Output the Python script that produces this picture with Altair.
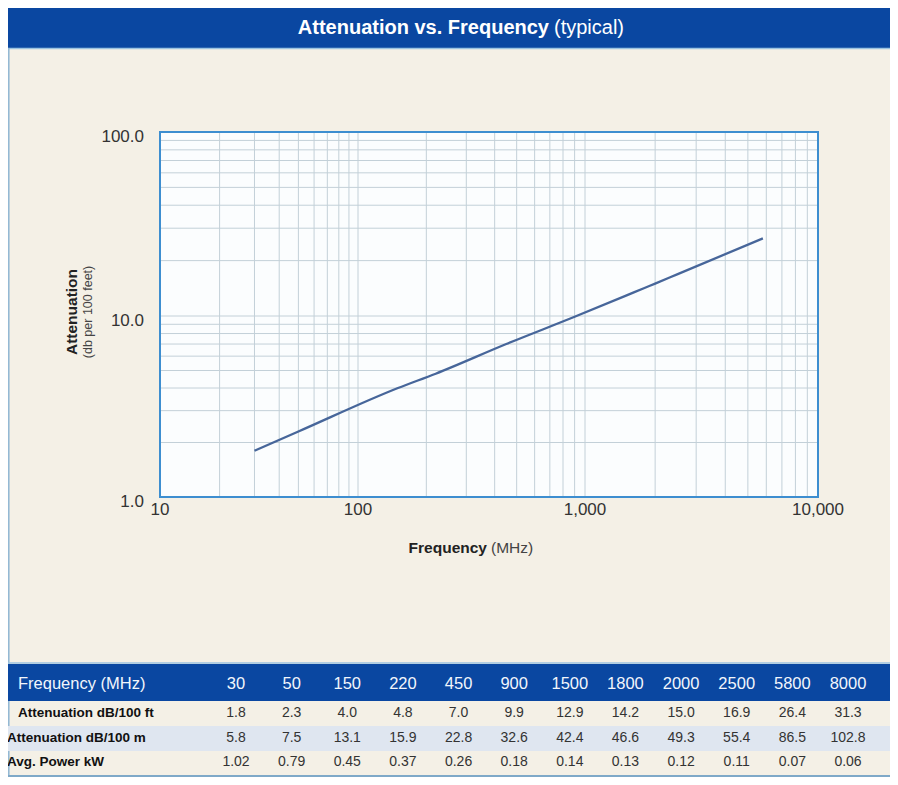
import altair as alt
import pandas as pd

# ---------------- data ----------------
freq = [30, 50, 150, 220, 450, 900, 1500, 1800, 2000, 2500, 5800, 8000]
att_ft = [1.8, 2.3, 4.0, 4.8, 7.0, 9.9, 12.9, 14.2, 15.0, 16.9, 26.4, 31.3]
att_m = [5.8, 7.5, 13.1, 15.9, 22.8, 32.6, 42.4, 46.6, 49.3, 55.4, 86.5, 102.8]
power_kw = [1.02, 0.79, 0.45, 0.37, 0.26, 0.18, 0.14, 0.13, 0.12, 0.11, 0.07, 0.06]

line_freq = [30, 50, 150, 220, 450, 900, 1500, 1800, 2000, 2500, 5800]
line_att = [1.8, 2.3, 4.0, 4.8, 7.0, 9.9, 12.9, 14.2, 15.0, 16.9, 26.4]

x_ticks = [10, 100, 1000, 10000]
x_tick_labels = ["10", "100", "1,000", "10,000"]
y_ticks = [1, 10, 100]
y_tick_labels = ["1.0", "10.0", "100.0"]

x_grid = [10, 20, 30, 40, 50, 60, 70, 80, 90,
          100, 200, 300, 400, 500, 600, 700, 800, 900,
          1000, 2000, 3000, 4000, 5000, 6000, 7000, 8000, 9000, 10000]
y_grid = [1, 2, 3, 4, 5, 6, 7, 8, 9,
          10, 20, 30, 40, 50, 60, 70, 80, 90, 100]

row_names = ["Attenuation dB/100 ft", "Attenuation dB/100 m", "Avg. Power kW"]
freq_labels = [str(f) for f in freq]

# ---------------- style ----------------
BG = "#f4f0e6"
NAVY = "#0a47a1"
FONT = "Liberation Sans"
W, H = 882, 769

XS = alt.Scale(type="log", domain=x_ticks, range=[152, 350, 577, 810], nice=False)
YS = alt.Scale(type="log", domain=y_ticks, range=[489, 308, 124], nice=False)
COLS = alt.Scale(type="point", domain=freq_labels, range=[228, 840], padding=0)
ROWS = alt.Scale(type="point", domain=row_names, range=[705, 754], padding=0)

one = pd.DataFrame({"a": [0]})


def box(x, x2, y, y2, color, **kw):
    return alt.Chart(one).mark_rect(color=color, **kw).encode(
        x=alt.value(x), x2=alt.value(x2), y=alt.value(y), y2=alt.value(y2))


def hline(y, color, width, x=0, x2=W):
    return alt.Chart(one).mark_rule(color=color, strokeWidth=width).encode(
        x=alt.value(x), x2=alt.value(x2), y=alt.value(y))


def label(text, x, y, size, bold=False, color="#222222", align="center", angle=0):
    kw = dict(text=text, fontSize=size, font=FONT, color=color, align=align,
              baseline="middle", fontWeight="bold" if bold else "normal")
    if angle:
        kw["angle"] = angle
    return alt.Chart(one).mark_text(**kw).encode(x=alt.value(x), y=alt.value(y))


layers = []

# title bar
layers.append(box(0, W, 0, 40, NAVY))
layers.append(hline(40.5, "#9cc3e0", 1.5))
layers.append(label("Attenuation vs. Frequency", 541, 20, 20, bold=True, color="white", align="right"))
layers.append(label("(typical)", 546, 20, 20, color="white", align="left"))

# left border
layers.append(alt.Chart(one).mark_rule(color="#8fb6d3", strokeWidth=1.5).encode(
    x=alt.value(0.8), y=alt.value(40), y2=alt.value(H)))

# plot area fill
frame_df = pd.DataFrame({"x0": [x_ticks[0]], "x1": [x_ticks[-1]], "y0": [y_ticks[0]], "y1": [y_ticks[-1]]})
layers.append(alt.Chart(frame_df).mark_rect(color="#fbfdfe").encode(
    x=alt.X("x0:Q", scale=XS, axis=None), x2="x1",
    y=alt.Y("y0:Q", scale=YS, axis=None), y2="y1"))

# grid
vg = pd.DataFrame({"v": x_grid, "y0": y_ticks[0], "y1": y_ticks[-1]})
hg = pd.DataFrame({"v": y_grid, "x0": x_ticks[0], "x1": x_ticks[-1]})
layers.append(alt.Chart(vg).mark_rule(color="#c3d0d8", strokeWidth=1).encode(
    x=alt.X("v:Q", scale=XS, axis=None),
    y=alt.Y("y0:Q", scale=YS, axis=None), y2="y1"))
layers.append(alt.Chart(hg).mark_rule(color="#c3d0d8", strokeWidth=1).encode(
    y=alt.Y("v:Q", scale=YS, axis=None),
    x=alt.X("x0:Q", scale=XS, axis=None), x2="x1"))

# frame
layers.append(alt.Chart(frame_df).mark_rect(fill=None, stroke="#3d8ed0", strokeWidth=2).encode(
    x=alt.X("x0:Q", scale=XS, axis=None), x2="x1",
    y=alt.Y("y0:Q", scale=YS, axis=None), y2="y1"))

# data line
line_df = pd.DataFrame({"f": line_freq, "a": line_att})
layers.append(alt.Chart(line_df).mark_line(color="#47669a", strokeWidth=2.3, interpolate="monotone").encode(
    x=alt.X("f:Q", scale=XS, axis=None),
    y=alt.Y("a:Q", scale=YS, axis=None)))

# tick labels
xl = pd.DataFrame({"v": x_ticks, "t": x_tick_labels, "y0": y_ticks[0]})
yl = pd.DataFrame({"v": y_ticks, "t": y_tick_labels, "x0": x_ticks[0]})
layers.append(alt.Chart(xl).mark_text(font=FONT, fontSize=17, color="#333333", dy=13, baseline="middle").encode(
    x=alt.X("v:Q", scale=XS, axis=None), y=alt.Y("y0:Q", scale=YS, axis=None), text="t:N"))
layers.append(alt.Chart(yl).mark_text(font=FONT, fontSize=17, color="#333333", dx=-16, dy=5,
                                      align="right", baseline="middle").encode(
    y=alt.Y("v:Q", scale=YS, axis=None), x=alt.X("x0:Q", scale=XS, axis=None), text="t:N"))

# axis titles
layers.append(label("Frequency", 479, 540, 15.5, bold=True, color="#222222", align="right"))
layers.append(label("(MHz)", 483, 540, 15.5, color="#444444", align="left"))
layers.append(label("Attenuation", 64, 304, 15.5, bold=True, color="#222222", angle=270))
layers.append(label("(db per 100 feet)", 80, 304, 12.5, color="#444444", angle=270))

# table backgrounds
layers.append(hline(655, "#9cc3e0", 1.5))
layers.append(box(0, W, 656, 693, NAVY))
layers.append(box(0, W, 718, 743, "#dfe6f0"))
layers.append(hline(768, "#7fa9c8", 2))

# table header
layers.append(label("Frequency (MHz)", 10, 676, 16.5, color="#f2f6fc", align="left"))
hdr = pd.DataFrame({"f": freq_labels})
layers.append(alt.Chart(hdr).mark_text(font=FONT, fontSize=16.5, color="#f2f6fc", baseline="middle").encode(
    x=alt.X("f:N", scale=COLS, axis=None), y=alt.value(676), text="f:N"))

# row labels
rl1 = pd.DataFrame({"r": row_names[:1]})
rl2 = pd.DataFrame({"r": row_names[1:]})
layers.append(alt.Chart(rl1).mark_text(font=FONT, fontSize=13.5, fontWeight="bold", color="#111111",
                                       align="left", baseline="middle").encode(
    x=alt.value(10), y=alt.Y("r:N", scale=ROWS, axis=None), text="r:N"))
layers.append(alt.Chart(rl2).mark_text(font=FONT, fontSize=13.5, fontWeight="bold", color="#111111",
                                       align="left", baseline="middle").encode(
    x=alt.value(-1), y=alt.Y("r:N", scale=ROWS, axis=None), text="r:N"))

# row values
for name, vals, fmt in [(row_names[0], att_ft, ".1f"), (row_names[1], att_m, ".1f"), (row_names[2], power_kw, ".2f")]:
    d = pd.DataFrame({"f": freq_labels, "v": vals, "r": name})
    layers.append(alt.Chart(d).mark_text(font=FONT, fontSize=14, color="#333333", baseline="middle").encode(
        x=alt.X("f:N", scale=COLS, axis=None),
        y=alt.Y("r:N", scale=ROWS, axis=None),
        text=alt.Text("v:Q", format=fmt)))

chart = alt.layer(*layers).resolve_scale(x="independent", y="independent").properties(
    width=W, height=H, autosize=alt.AutoSizeParams(type="none"), padding=0, background=BG
).configure_view(strokeWidth=0)

chart.save("out.html", embed_options={"renderer": "svg", "actions": False})
